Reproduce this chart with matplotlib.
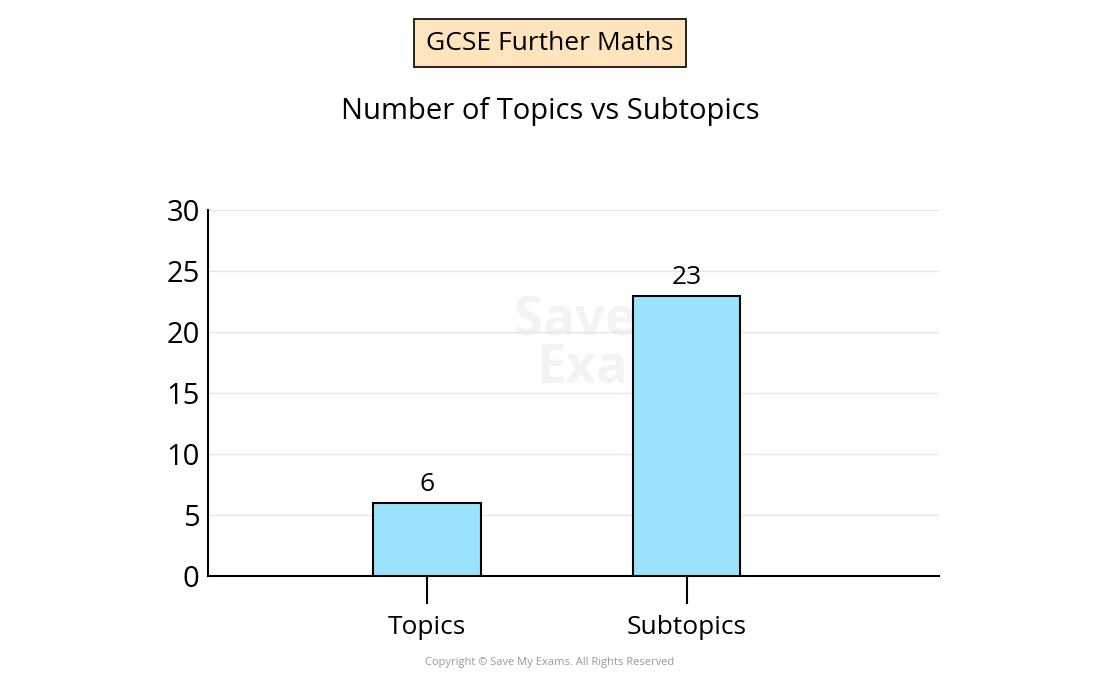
import matplotlib.pyplot as plt

categories = ['Topics', 'Subtopics']
counts = [6, 23]
yticks = [0, 5, 10, 15, 20, 25, 30]

plt.rcParams['font.family'] = ['Open Sans', 'DejaVu Sans']

fig = plt.figure(figsize=(11, 6.74), dpi=100)

# watermark, drawn behind the axes
fig.text(0.565, 1 - 345 / 674, 'Save My\nExams', ha='center', va='center', fontsize=38, fontweight='bold',
         color='#f3f3f3', linespacing=0.85, zorder=0)

ax = fig.add_axes([0.189, 0.145, 0.665, 0.543], zorder=1)
ax.patch.set_alpha(0)

x = list(range(len(categories)))
ax.bar(x, counts, width=0.415, color='#99e3fd', edgecolor='black', linewidth=1.5, zorder=3)
for xi, v in zip(x, counts):
    ax.text(xi, v + 0.5, str(v), ha='center', va='bottom', fontsize=19)

ax.set_xlim(-0.842, 1.973)
ax.set_ylim(0, 30)
ax.set_yticks(yticks)
ax.set_yticklabels([str(t) for t in yticks], fontsize=21)
ax.set_xticks(x)
ax.set_xticklabels(categories, fontsize=19)
ax.tick_params(axis='y', length=0, pad=6)
ax.tick_params(axis='x', length=20, width=1.5, direction='out', pad=8)
ax.grid(axis='y', color='#e6e6e6', linewidth=1, zorder=0)
for s in ['top', 'right']:
    ax.spines[s].set_visible(False)
ax.spines['left'].set_linewidth(1.5)
ax.spines['bottom'].set_linewidth(1.5)

fig.text(0.5, 1 - 43 / 674, 'GCSE Further Maths', ha='center', va='center', fontsize=19,
         bbox=dict(boxstyle='square,pad=0.45', facecolor='#fde4bd', edgecolor='black', linewidth=1.2))
fig.text(0.5, 1 - 112 / 674, 'Number of Topics vs Subtopics', ha='center', va='center', fontsize=21)
fig.text(0.5, 1 - 662 / 674, 'Copyright © Save My Exams. All Rights Reserved', ha='center', va='center',
         fontsize=8, color='#999999')

fig.savefig('out.png', dpi=100)
